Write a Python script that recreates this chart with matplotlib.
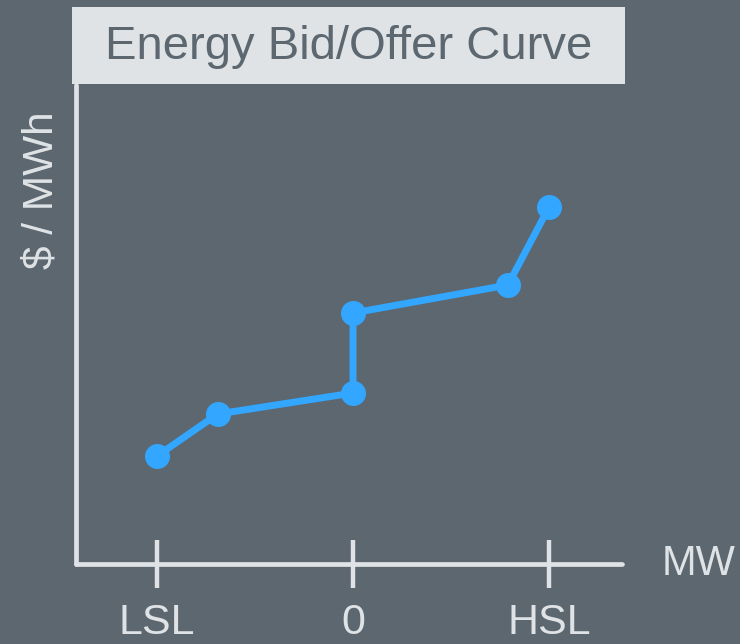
import matplotlib.pyplot as plt
from matplotlib.patches import Rectangle

# curve points (MW position relative to LSL=-100, 0, HSL=100; price in arbitrary $ units)
mw = [-100, -69, 0, 0, 79, 100]
price = [108, 150, 171, 251, 279, 357]
tick_pos = [-100, 0, 100]
tick_labels = ["LSL", "0", "HSL"]

bg = "#5c6770"
light = "#dfe3e6"
blue = "#33a6ff"

plt.rcParams['font.family'] = ['Liberation Sans', 'DejaVu Sans']

fig = plt.figure(figsize=(7.4, 6.44), dpi=100, facecolor=bg)
ax = fig.add_axes([76 / 740, 80 / 644, 546 / 740, 479 / 644])
ax.set_facecolor(bg)

ax.plot(mw, price, color=blue, linewidth=5, marker='o', markersize=17,
        solid_capstyle='round', clip_on=False, zorder=3)

ax.set_xlim(-141.3, 137.2)
ax.set_ylim(0, 479)

for side in ['top', 'right']:
    ax.spines[side].set_visible(False)
for side in ['left', 'bottom']:
    ax.spines[side].set_color(light)
    ax.spines[side].set_linewidth(3.4)
    ax.spines[side].set_capstyle('round')

ax.set_xticks(tick_pos)
ax.set_xticklabels(tick_labels)
ax.set_yticks([])
ax.tick_params(axis='x', direction='inout', length=34, width=3.2, color=light,
               labelcolor=light, labelsize=31, pad=11)

ax.set_ylabel("$ / MWh", color=light, fontsize=30.5)
ax.yaxis.set_label_coords(-14 / 546, (564 - 190) / 479)

fig.text(662 / 740, (644 - 564) / 644, "MW", color=light, fontsize=30,
         ha='left', va='center')

# title box
fig.patches.append(Rectangle((72 / 740, (644 - 84) / 644), 553 / 740, 77 / 644,
                             transform=fig.transFigure, facecolor=light,
                             edgecolor='none', zorder=5))
fig.text(349 / 740, (644 - 47) / 644, "Energy Bid/Offer Curve", color=bg,
         fontsize=34, ha='center', va='center', zorder=6)

plt.savefig("out.png", dpi=100, facecolor=bg)
